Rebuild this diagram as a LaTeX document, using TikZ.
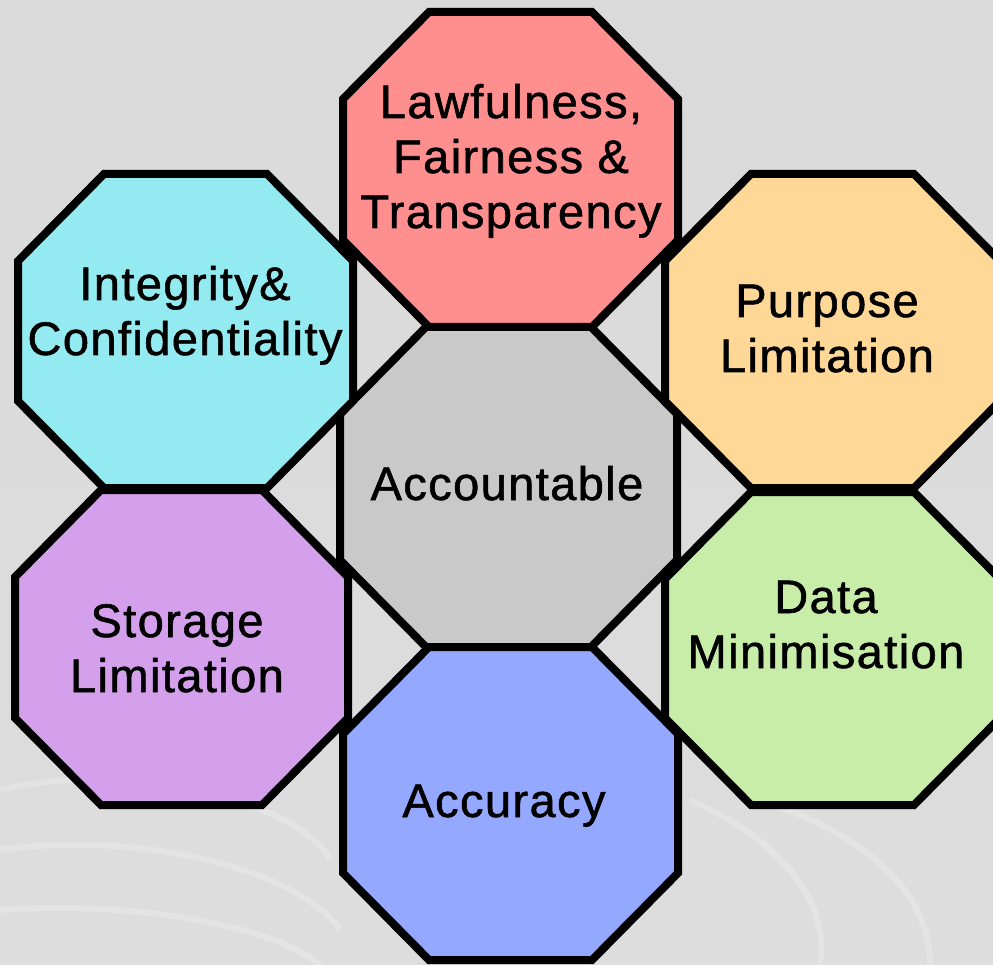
\documentclass[tikz,border=0pt]{standalone}
\usepackage{fontspec}
\setmainfont{Liberation Sans}[LetterSpace=3,FakeBold=1.2]
\definecolor{cPink}{HTML}{FF8F8F}
\definecolor{cCyan}{HTML}{93EAF0}
\definecolor{cOrange}{HTML}{FFD898}
\definecolor{cGray}{HTML}{C9C9C9}
\definecolor{cPurple}{HTML}{D4A0EC}
\definecolor{cGreen}{HTML}{C8EDA8}
\definecolor{cBlue}{HTML}{94A8FF}
\definecolor{bgTop}{HTML}{DADADA}
\definecolor{bgMid}{HTML}{E9E9E9}
\definecolor{bgBot}{HTML}{DDDDDD}
\newcommand\octa[5]{%
  \filldraw[oct, fill=#5] (#1+86,#2) -- (#3-86,#2) -- (#3,#2+87) -- (#3,#4-87)
    -- (#3-86,#4) -- (#1+86,#4) -- (#1,#4-87) -- (#1,#2+87) -- cycle;}
\newcommand\lines[1]{\begin{tabular}[b]{@{}c@{}}#1\end{tabular}}
\begin{document}
\begin{tikzpicture}[x=1pt,y=-1pt,line join=miter,
  oct/.style={draw=black,line width=8pt},
  lbl/.style={inner sep=0pt,anchor=base,text=black,font=\fontsize{47}{55}\selectfont},
  swirl/.style={white,opacity=0.22,line width=6pt}]
\useasboundingbox (0,0) rectangle (993,965);
\clip (0,0) rectangle (993,965);
\shade[top color=bgTop,middle color=bgMid,bottom color=bgBot] (0,0) rectangle (993,965);
% faint background swirls
\draw[swirl] (0,790) .. controls (120,760) and (300,800) .. (330,860);
\draw[swirl] (0,850) .. controls (140,830) and (300,870) .. (340,930);
\draw[swirl] (0,910) .. controls (150,900) and (280,930) .. (320,965);
\draw[swirl] (690,800) .. controls (780,840) and (830,900) .. (820,965);
\draw[swirl] (760,800) .. controls (880,840) and (930,900) .. (930,965);
% octagons
\octa{340}{327}{677}{647}{cGray}
\octa{343}{12}{678}{327}{cPink}
\octa{343}{647}{678}{960}{cBlue}
\octa{18}{174}{353}{488}{cCyan}
\octa{15}{490}{348}{805}{cPurple}
\octa{665}{174}{1000}{488}{cOrange}
\octa{665}{492}{1000}{805}{cGreen}
% labels
\node[lbl] (acc) at (507,500) {Accountable};
\node[lbl] (law) at (511,228) {\lines{Lawfulness,\\Fairness \&\\Transparency}};
\node[lbl] (int) at (185,355) {\lines{Integrity\&\\Confidentiality}};
\node[lbl] (pur) at (827,372) {\lines{Purpose\\Limitation}};
\node[lbl] (sto) at (177,692) {\lines{Storage\\Limitation}};
\node[lbl] (dat) at (826,668) {\lines{Data\\Minimisation}};
\node[lbl] (acu) at (504,817) {Accuracy};
\end{tikzpicture}
\end{document}
